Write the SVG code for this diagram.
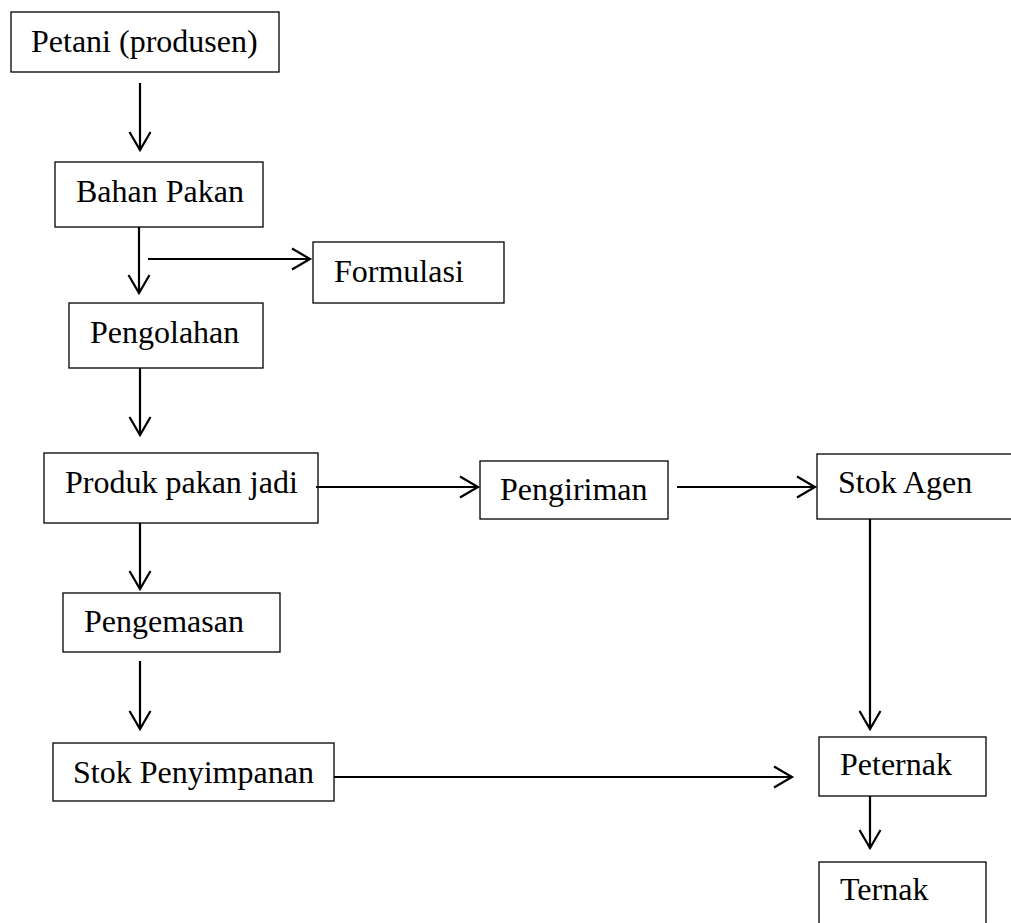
<svg xmlns="http://www.w3.org/2000/svg" width="1011" height="923" viewBox="0 0 1011 923">
<style>
.box{fill:#fff;stroke:#000;stroke-width:1.3}
.t{font-family:"Liberation Serif","Times New Roman",serif;font-size:32px;fill:#000}
.c{fill:none;stroke:#000;stroke-width:2.2}
</style>
<defs>
<marker id="ah" viewBox="0 0 24 24" refX="20" refY="12" markerWidth="24" markerHeight="24" markerUnits="userSpaceOnUse" orient="auto">
<path d="M2,1.5 L20,12 L2,22.5" fill="none" stroke="#000" stroke-width="2.2"/>
</marker>
</defs>
<rect width="1011" height="923" fill="#fff"/>
<g id="n-petani"><rect class="box" x="11" y="12" width="268" height="60"/><text class="t" x="31" y="52">Petani (produsen)</text></g>
<g id="n-bahan"><rect class="box" x="55" y="162" width="208" height="65"/><text class="t" x="76" y="202">Bahan Pakan</text></g>
<g id="n-formulasi"><rect class="box" x="313" y="242" width="191" height="61"/><text class="t" x="334" y="282">Formulasi</text></g>
<g id="n-pengolahan"><rect class="box" x="69" y="303" width="194" height="65"/><text class="t" x="90" y="343">Pengolahan</text></g>
<g id="n-produk"><rect class="box" x="44" y="453" width="274" height="70"/><text class="t" x="65" y="493">Produk pakan jadi</text></g>
<g id="n-pengiriman"><rect class="box" x="480" y="461" width="188" height="58"/><text class="t" x="500" y="500">Pengiriman</text></g>
<g id="n-stokagen"><rect class="box" x="817" y="454" width="200" height="65"/><text class="t" x="838" y="493">Stok Agen</text></g>
<g id="n-pengemasan"><rect class="box" x="63" y="593" width="217" height="59"/><text class="t" x="84" y="632">Pengemasan</text></g>
<g id="n-stokpenyimpanan"><rect class="box" x="53" y="743" width="281" height="58"/><text class="t" x="73" y="783">Stok Penyimpanan</text></g>
<g id="n-peternak"><rect class="box" x="819" y="737" width="167" height="59"/><text class="t" x="840" y="775">Peternak</text></g>
<g id="n-ternak"><rect class="box" x="819" y="862" width="167" height="70"/><text class="t" x="840" y="900">Ternak</text></g>
<g id="connectors">
<line class="c" x1="140" y1="83" x2="140" y2="150" marker-end="url(#ah)"/>
<line class="c" x1="139" y1="227" x2="139" y2="293" marker-end="url(#ah)"/>
<line class="c" x1="148" y1="259" x2="310" y2="259" marker-end="url(#ah)"/>
<line class="c" x1="140" y1="368" x2="140" y2="435" marker-end="url(#ah)"/>
<line class="c" x1="316" y1="487" x2="478" y2="487" marker-end="url(#ah)"/>
<line class="c" x1="677" y1="487" x2="815" y2="487" marker-end="url(#ah)"/>
<line class="c" x1="140" y1="523" x2="140" y2="589" marker-end="url(#ah)"/>
<line class="c" x1="140" y1="661" x2="140" y2="729" marker-end="url(#ah)"/>
<line class="c" x1="334" y1="777" x2="792" y2="777" marker-end="url(#ah)"/>
<line class="c" x1="870" y1="519" x2="870" y2="729" marker-end="url(#ah)"/>
<line class="c" x1="870" y1="796" x2="870" y2="848" marker-end="url(#ah)"/>
</g>
</svg>
